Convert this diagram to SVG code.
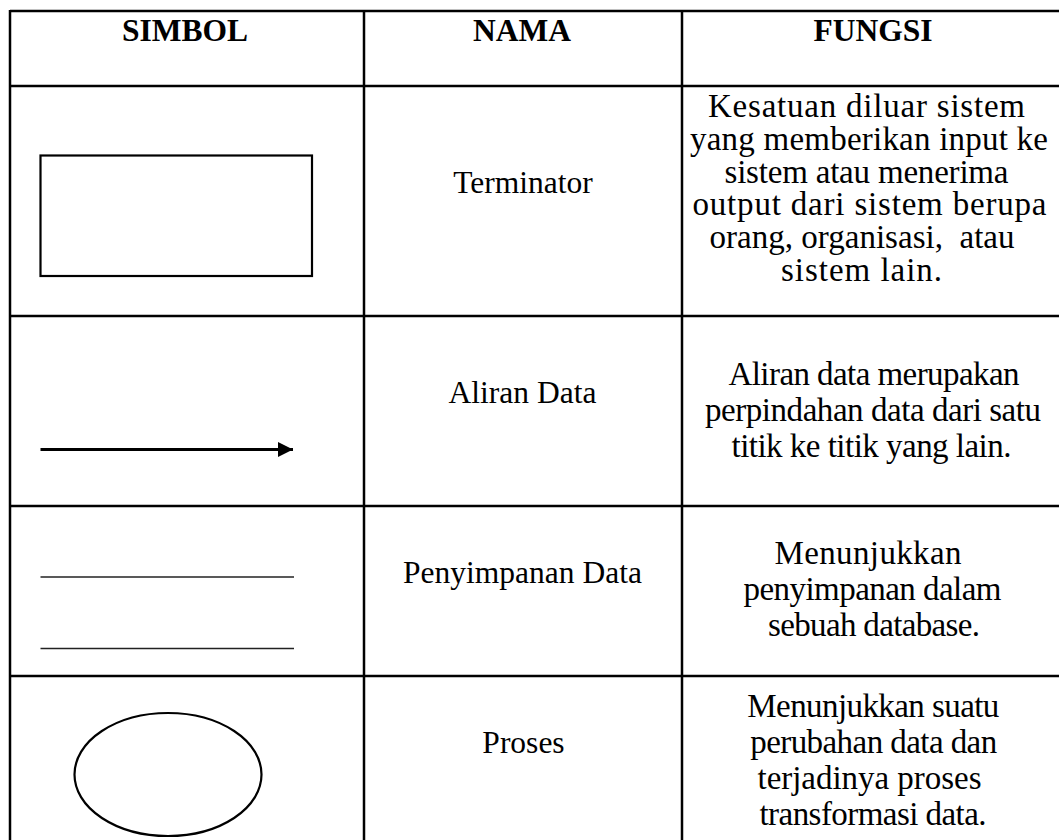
<svg xmlns="http://www.w3.org/2000/svg" width="1059" height="840" viewBox="0 0 1059 840">
  <style>
    .grid { stroke: #000; stroke-width: 2.5; fill: none; }
    .head { font-family: "Liberation Serif", "Times New Roman", serif; font-size: 31.5px; font-weight: bold; fill: #000; text-anchor: middle; }
    .name { font-family: "Liberation Serif", "Times New Roman", serif; font-size: 31.5px; fill: #000; text-anchor: middle; }
    .desc { font-family: "Liberation Serif", "Times New Roman", serif; font-size: 33px; fill: #000; text-anchor: middle; }
    .sym { stroke: #000; stroke-width: 2.2; fill: none; }
    .store { stroke: #222; stroke-width: 1.4; fill: none; }
  </style>
  <defs>
    <marker id="arrowhead" viewBox="0 0 10 10" refX="10" refY="5" markerWidth="5.4" markerHeight="5.4" markerUnits="strokeWidth" orient="auto">
      <path d="M0,0 L10,5 L0,10 Z" fill="#000"/>
    </marker>
  </defs>

  <rect x="0" y="0" width="1059" height="840" fill="#fff"/>

  <!-- table grid -->
  <g id="table-grid" class="grid">
    <line x1="10" y1="11" x2="1059" y2="11"/>
    <line x1="10" y1="86" x2="1059" y2="86"/>
    <line x1="10" y1="316" x2="1059" y2="316"/>
    <line x1="10" y1="506" x2="1059" y2="506"/>
    <line x1="10" y1="676" x2="1059" y2="676"/>
    <line x1="10" y1="10" x2="10" y2="840"/>
    <line x1="364" y1="10" x2="364" y2="840"/>
    <line x1="682" y1="10" x2="682" y2="840"/>
  </g>

  <!-- header row -->
  <g id="header">
    <text class="head" x="185" y="41">SIMBOL</text>
    <text class="head" x="522" y="41">NAMA</text>
    <text class="head" x="873" y="41">FUNGSI</text>
  </g>

  <!-- row: terminator -->
  <g id="row-terminator">
    <rect class="sym" x="40.5" y="155.5" width="271.5" height="120.5"/>
    <text class="name" x="523" y="193">Terminator</text>
    <text class="desc" x="866.5" y="117" textLength="317" lengthAdjust="spacing">Kesatuan diluar sistem</text>
    <text class="desc" x="869" y="150" textLength="358" lengthAdjust="spacing">yang memberikan input ke</text>
    <text class="desc" x="866.5" y="182.5" textLength="284" lengthAdjust="spacing">sistem atau menerima</text>
    <text class="desc" x="869.5" y="215" textLength="354" lengthAdjust="spacing">output dari sistem berupa</text>
    <text class="desc" x="862" y="248" textLength="305" lengthAdjust="spacing" xml:space="preserve">orang, organisasi,  atau</text>
    <text class="desc" x="861.5" y="280.5" textLength="161" lengthAdjust="spacing">sistem lain.</text>
  </g>

  <!-- row: data flow -->
  <g id="row-aliran-data">
    <g id="connectors">
      <line x1="40.5" y1="449.5" x2="293" y2="449.5" stroke="#000" stroke-width="2.8" marker-end="url(#arrowhead)"/>
    </g>
    <text class="name" x="522.5" y="402.5">Aliran Data</text>
    <text class="desc" x="874" y="385" textLength="291" lengthAdjust="spacing">Aliran data merupakan</text>
    <text class="desc" x="873" y="421" textLength="336" lengthAdjust="spacing">perpindahan data dari satu</text>
    <text class="desc" x="871.5" y="457" textLength="280" lengthAdjust="spacing">titik ke titik yang lain.</text>
  </g>

  <!-- row: data store -->
  <g id="row-penyimpanan-data">
    <line class="store" x1="40.5" y1="577" x2="294" y2="577"/>
    <line class="store" x1="40.5" y1="648.5" x2="294" y2="648.5"/>
    <text class="name" x="522.5" y="582.5">Penyimpanan Data</text>
    <text class="desc" x="868" y="563.5" textLength="187" lengthAdjust="spacing">Menunjukkan</text>
    <text class="desc" x="872.5" y="600" textLength="258" lengthAdjust="spacing">penyimpanan dalam</text>
    <text class="desc" x="874" y="636" textLength="212" lengthAdjust="spacing">sebuah database.</text>
  </g>

  <!-- row: process -->
  <g id="row-proses">
    <ellipse class="sym" cx="168" cy="774.5" rx="93.5" ry="61.5"/>
    <text class="name" x="523.5" y="752.5">Proses</text>
    <text class="desc" x="873.3" y="717" textLength="252" lengthAdjust="spacing">Menunjukkan suatu</text>
    <text class="desc" x="873.7" y="753" textLength="247" lengthAdjust="spacing">perubahan data dan</text>
    <text class="desc" x="869.5" y="788.5" textLength="224" lengthAdjust="spacing">terjadinya proses</text>
    <text class="desc" x="873" y="824.5" textLength="227" lengthAdjust="spacing">transformasi data.</text>
  </g>
</svg>
